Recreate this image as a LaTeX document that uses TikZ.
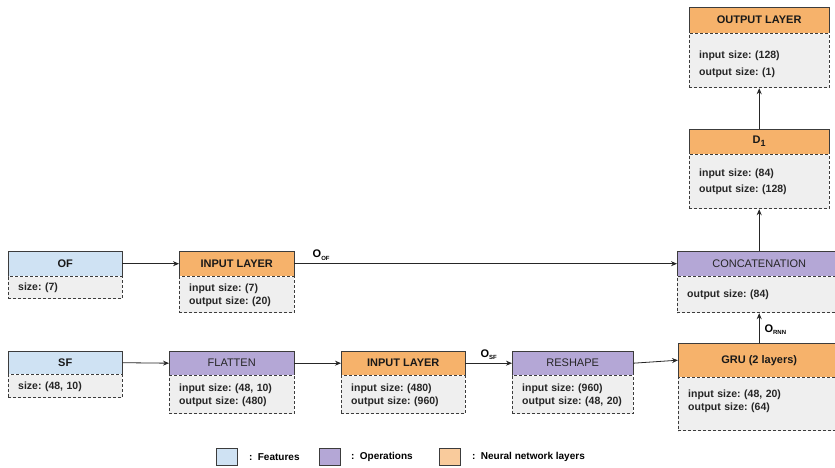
\documentclass[tikz,border=0pt]{standalone}
\usepackage{fontspec}
\setmainfont{Liberation Sans}
\usetikzlibrary{positioning,arrows.meta}
\frenchspacing

\definecolor{featblue}{HTML}{CFE2F3}
\definecolor{oppurple}{HTML}{B4A7D6}
\definecolor{nnorange}{HTML}{F6B26B}
\definecolor{nnlight}{HTML}{F9CB9C}
\definecolor{bodygray}{HTML}{EFEFEF}
\definecolor{linegray}{HTML}{3C3C3C}

% O with a small lowered index
\newcommand{\osub}[1]{O\raisebox{-2.5pt}{\fontsize{6}{7}\selectfont #1}}

\tikzset{
  hdr/.style={rectangle, anchor=north west, inner sep=0pt, font=\fontsize{11}{13}\selectfont\bfseries, text=black!90},
  feat/.style={hdr, fill=featblue},
  op/.style={hdr, fill=oppurple, font=\fontsize{11}{13}\selectfont, text=black!85},
  nn/.style={hdr, fill=nnorange},
  body/.style={rectangle, draw=linegray, dash pattern=on 3pt off 2pt, line width=0.8pt, fill=bodygray, inner xsep=10pt, inner ysep=3pt, align=left, font=\fontsize{10.5}{13}\selectfont\bfseries, text=black!85},
  hdrline/.style={draw=linegray, line width=0.8pt},
  conn/.style={-{Stealth[length=6pt,width=5pt]}, line width=0.8pt, draw=black!85},
  lbl/.style={font=\fontsize{11}{13}\selectfont\bfseries, inner sep=1pt},
  legbox/.style={rectangle, draw=linegray, line width=0.8pt, anchor=north west, minimum width=21pt, minimum height=17pt, inner sep=0pt},
  legtxt/.style={font=\fontsize{10}{12}\selectfont\bfseries, anchor=west, inner sep=0pt}
}

\begin{document}
\begin{tikzpicture}[x=1pt, y=-1pt]
	\useasboundingbox (0,0) rectangle (835,468);

	% other features branch
	\node[feat, minimum width=114pt, minimum height=25pt] (of) at (8,251) {OF};
	\node[body, text width=94pt, minimum height=22pt, below=0pt of of] (ofb) {size: (7)};
	\node[nn, minimum width=115pt, minimum height=25pt] (in1) at (179,251) {INPUT LAYER};
	\node[body, text width=95pt, minimum height=36pt, below=0pt of in1] (in1b) {input size: (7)\\output size: (20)};

	% sequence features branch
	\node[feat, minimum width=114pt, minimum height=23pt] (sf) at (8,351) {SF};
	\node[body, text width=94pt, minimum height=23pt, below=0pt of sf] (sfb) {size: (48, 10)};
	\node[op, minimum width=125pt, minimum height=24pt] (fl) at (169,351) {FLATTEN};
	\node[body, text width=105pt, minimum height=38pt, below=0pt of fl] (flb) {input size: (48, 10)\\output size: (480)};
	\node[nn, minimum width=124pt, minimum height=24pt] (in2) at (341,351) {INPUT LAYER};
	\node[body, text width=104pt, minimum height=38pt, below=0pt of in2] (in2b) {input size: (480)\\output size: (960)};
	\node[op, minimum width=121pt, minimum height=24pt] (rs) at (512,351) {RESHAPE};
	\node[body, text width=101pt, minimum height=38pt, below=0pt of rs] (rsb) {input size: (960)\\output size: (48, 20)};
	\node[nn, minimum width=162pt, minimum height=34pt] (gru) at (678,343) {GRU (2 layers)};
	\node[body, text width=142pt, minimum height=53pt, text depth=22pt, below=0pt of gru] (grub) {input size: (48, 20)\\output size: (64)};

	% merge and head
	\node[op, minimum width=164pt, minimum height=25pt] (cc) at (677,251) {CONCATENATION};
	\node[body, text width=144pt, minimum height=36pt, below=0pt of cc] (ccb) {output size: (84)};
	\node[nn, minimum width=140pt, minimum height=25pt] (d1) at (689,129) {D\raisebox{-3pt}{\fontsize{9}{9}\selectfont 1}};
	\node[body, text width=120pt, minimum height=54pt, below=0pt of d1] (d1b) {input size: (84)\\[3pt]output size: (128)};
	\node[nn, minimum width=140pt, minimum height=26pt] (out) at (689,7) {OUTPUT LAYER};
	\node[body, text width=120pt, minimum height=54pt, text depth=12pt, below=0pt of out] (outb) {input size: (128)\\[4pt]output size: (1)};

	% solid outline on the header parts
	\foreach \n in {of,in1,sf,fl,in2,rs,gru,cc,d1,out}
		\draw[hdrline] (\n.south west) |- (\n.north east) -- (\n.south east);

	\draw[conn] (of.east) -- (in1.west);
	\draw[conn] (in1.east) -- node[lbl, above=2pt, pos=0.07] (oof) {\osub{OF}} (cc.west);
	\draw[conn] (sf.east) -- (fl.west);
	\draw[conn] (fl.east) -- (in2.west);
	\draw[conn] (in2.east) -- node[lbl, above=2pt] (osf) {\osub{SF}} (rs.west);
	\draw[conn] (rs.east) -- (gru.west);
	\draw[conn] (gru.north) -- node[lbl, right=4pt, pos=0.45] (ornn) {\osub{RNN}} (ccb.south);
	\draw[conn] (cc.north) -- (d1b.south);
	\draw[conn] (d1.north) -- (outb.south);

	% legend
	\node[legbox, fill=featblue] (lgf) at (216,448) {};
	\node[legtxt, right=11pt of lgf] (lgft) {:\ \ Features};
	\node[legbox, fill=oppurple] (lgo) at (319,448) {};
	\node[legtxt, right=10pt of lgo] (lgot) {:\ \ Operations};
	\node[legbox, fill=nnlight] (lgn) at (439,448) {};
	\node[legtxt, right=11pt of lgn] (lgnt) {:\ \ Neural network layers};
\end{tikzpicture}
\end{document}
